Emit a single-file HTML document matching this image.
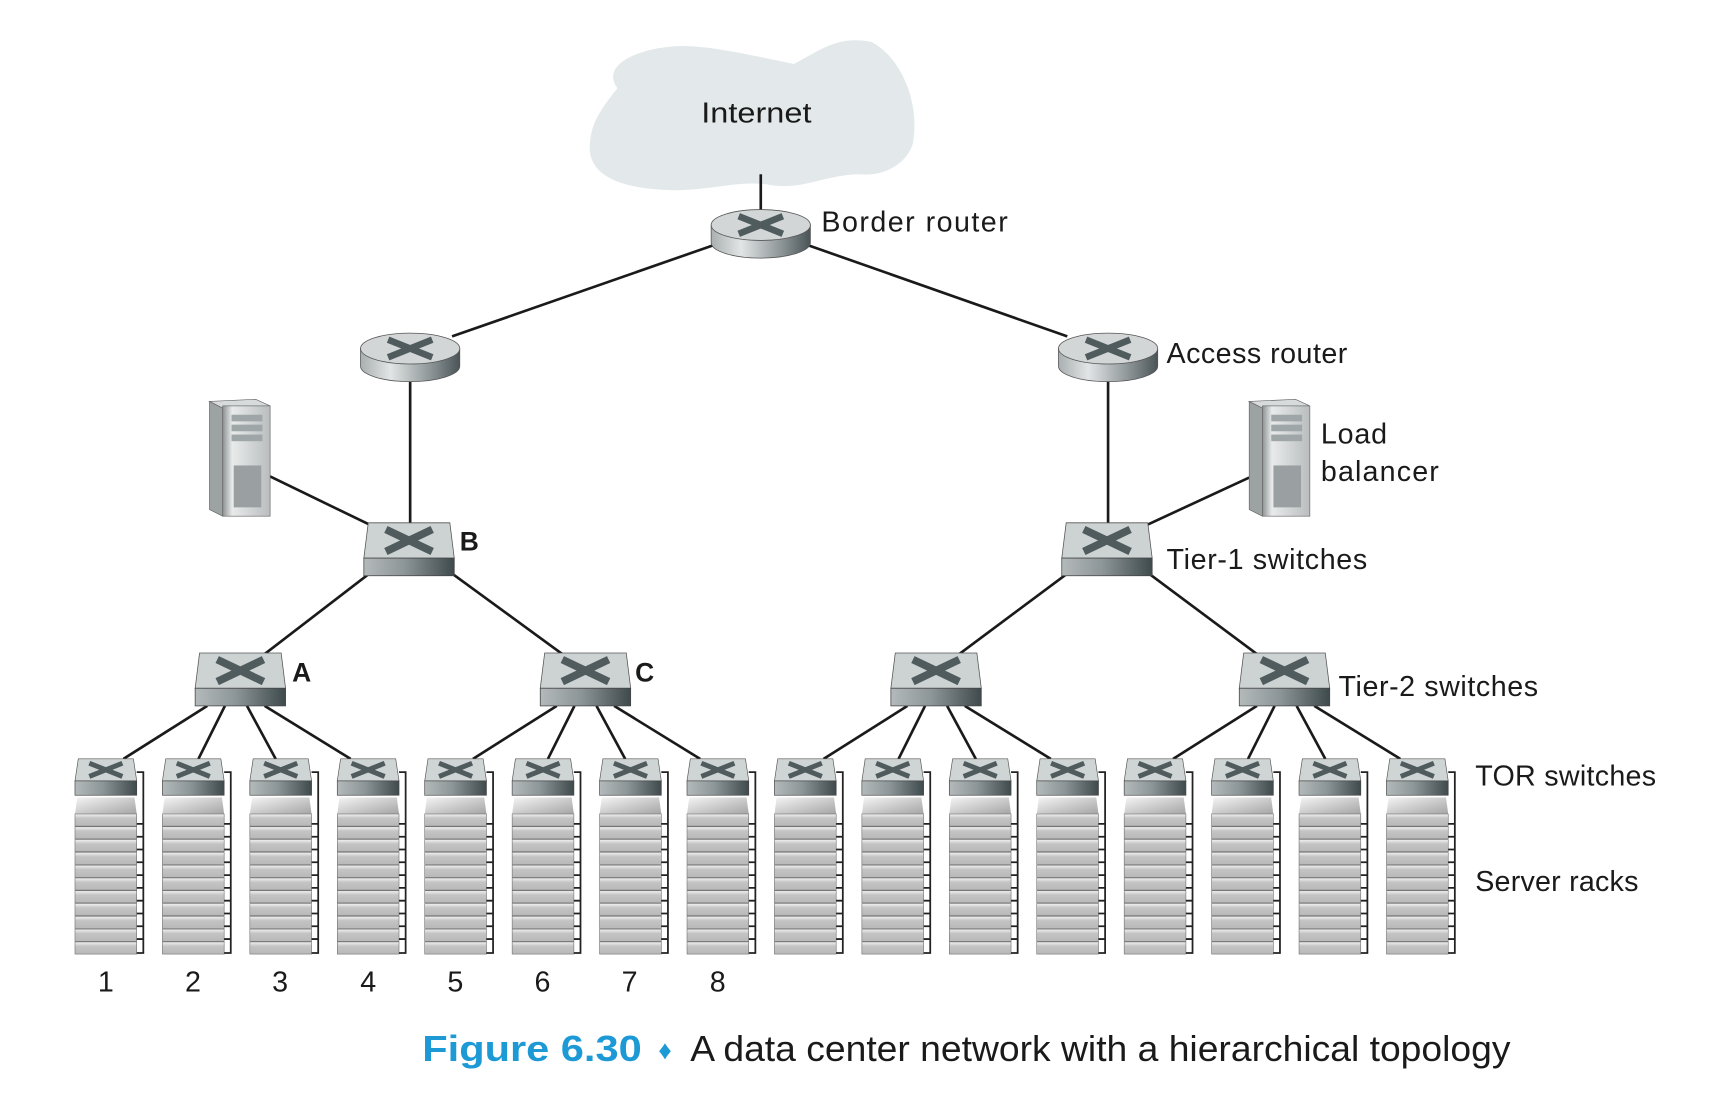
<!DOCTYPE html>
<html><head><meta charset="utf-8"><style>
html,body{margin:0;padding:0;background:#fff}
svg{display:block}
text{font-family:"Liberation Sans",sans-serif;fill:#1a1a1a}
</style></head><body>
<svg width="1720" height="1114" viewBox="0 0 1560 1010" preserveAspectRatio="none" xmlns="http://www.w3.org/2000/svg">
<defs>
<linearGradient id="front" x1="0" x2="1" y1="0" y2="0"><stop offset="0" stop-color="#b4babb"/><stop offset="0.45" stop-color="#8c9597"/><stop offset="1" stop-color="#3f4a4c"/></linearGradient>
<linearGradient id="cyl" x1="0" x2="1"><stop offset="0" stop-color="#a9afb0"/><stop offset="0.3" stop-color="#e2e5e6"/><stop offset="0.7" stop-color="#8e9698"/><stop offset="1" stop-color="#4a5456"/></linearGradient>
<linearGradient id="topg" x1="0" x2="1" y1="0" y2="1"><stop offset="0" stop-color="#f4f4f4"/><stop offset="1" stop-color="#a5a5a5"/></linearGradient>
<linearGradient id="slab" x1="0" x2="0" y1="0" y2="1"><stop offset="0" stop-color="#f2f2f2"/><stop offset="0.35" stop-color="#c4c4c4"/><stop offset="1" stop-color="#b8b8b8"/></linearGradient>
<linearGradient id="srv" x1="0" x2="1"><stop offset="0" stop-color="#8d9293"/><stop offset="0.2" stop-color="#e9ebeb"/><stop offset="1" stop-color="#b9bdbe"/></linearGradient>
<symbol id="sw" overflow="visible">
 <path d="M4,0 L78,0 L82,32 L0,32 Z" fill="#cdd2d3" stroke="#555" stroke-width="0.7"/>
 <rect x="0" y="32" width="82" height="16" fill="url(#front)" stroke="#444" stroke-width="0.7"/>
 <path d="M20,6 L62,26 M62,6 L20,26" stroke="#4f5b5d" stroke-width="7"/>
</symbol>
<symbol id="rt" overflow="visible">
 <path d="M-45,0 L-45,16 A45,14 0 0 0 45,16 L45,0 Z" fill="url(#cyl)" stroke="#555" stroke-width="0.7"/>
 <ellipse cx="0" cy="0" rx="45" ry="14" fill="#d2d6d7" stroke="#555" stroke-width="0.7"/>
 <path d="M-20,-8 L20,8 M20,-8 L-20,8" stroke="#4f5b5d" stroke-width="6"/>
</symbol>
<symbol id="rack" overflow="visible">
 <path d="M3,0 L53,0 L56,20 L0,20 Z" fill="#cfd4d5" stroke="#555" stroke-width="0.6"/>
 <rect x="0" y="20" width="56" height="13" fill="url(#front)" stroke="#444" stroke-width="0.6"/>
 <path d="M13,4 L43,16 M43,4 L13,16" stroke="#4f5b5d" stroke-width="4.5"/>
 <path d="M2,35 L54,35 L56,50 L0,50 Z" fill="url(#topg)"/>
 <g fill="url(#slab)" stroke="#666" stroke-width="0.5">
  <rect x="0" y="50" width="56" height="11"/><rect x="0" y="61.6" width="56" height="11"/><rect x="0" y="73.2" width="56" height="11"/><rect x="0" y="84.8" width="56" height="11"/><rect x="0" y="96.4" width="56" height="11"/><rect x="0" y="108" width="56" height="11"/><rect x="0" y="119.6" width="56" height="11"/><rect x="0" y="131.2" width="56" height="11"/><rect x="0" y="142.8" width="56" height="11"/><rect x="0" y="154.4" width="56" height="11"/><rect x="0" y="166" width="56" height="11"/>
 </g>
 <path d="M56,12 L62,12 L62,176 L56,176 M56,59 H62 M56,70.6 H62 M56,82.2 H62 M56,93.8 H62 M56,105.4 H62 M56,117 H62 M56,128.6 H62 M56,140.2 H62 M56,151.8 H62 M56,163.4 H62" fill="none" stroke="#222" stroke-width="1.6"/>
</symbol>
<symbol id="server" overflow="visible">
 <path d="M0,0 L12,6 L12,104 L0,98 Z" fill="#9da2a3" stroke="#666" stroke-width="0.6"/>
 <path d="M0,0 L42,-2 L55,4 L12,6 Z" fill="#d8dbdc" stroke="#666" stroke-width="0.6"/>
 <rect x="12" y="4" width="43" height="100" fill="url(#srv)" stroke="#666" stroke-width="0.6"/>
 <rect x="20" y="12" width="28" height="6" fill="#9fa6a8"/><rect x="20" y="21" width="28" height="6" fill="#9fa6a8"/><rect x="20" y="30" width="28" height="6" fill="#9fa6a8"/>
 <rect x="22" y="58" width="25" height="38" fill="#9aa0a2"/>
</symbol>
</defs>

<path d="M560,80 C545,60 575,45 610,42 C640,40 680,50 720,58 C745,45 760,32 790,38 C815,50 835,90 828,130 C822,150 800,160 780,158 C750,158 730,172 700,168 C670,162 640,175 600,172 C565,170 532,160 535,130 C536,110 548,95 560,80 Z" fill="#e3e9eb"/>
<text x="636" y="111" font-size="26" textLength="100" lengthAdjust="spacingAndGlyphs">Internet</text>

<g stroke="#1a1a1a" stroke-width="2.4" fill="none">
 <line x1="690" y1="158" x2="690" y2="192"/>
 <line x1="648" y1="222" x2="410" y2="305"/>
 <line x1="732" y1="222" x2="968" y2="305"/>
 <line x1="372" y1="345" x2="372" y2="476"/>
 <line x1="1005" y1="345" x2="1005" y2="476"/>
 <line x1="245" y1="432" x2="340" y2="478"/>
 <line x1="1133" y1="433" x2="1040" y2="476"/>
 <line x1="335" y1="520" x2="240" y2="593"/>
 <line x1="410" y1="520" x2="510" y2="593"/>
 <line x1="968" y1="520" x2="870" y2="593"/>
 <line x1="1042" y1="520" x2="1140" y2="593"/>
 <line x1="188" y1="640" x2="112" y2="688"/><line x1="204" y1="640" x2="180" y2="688"/><line x1="224" y1="640" x2="250" y2="688"/><line x1="240" y1="640" x2="318" y2="688"/>
 <line x1="505" y1="640" x2="429" y2="688"/><line x1="521" y1="640" x2="497" y2="688"/><line x1="541" y1="640" x2="567" y2="688"/><line x1="557" y1="640" x2="635" y2="688"/>
 <line x1="823" y1="640" x2="747" y2="688"/><line x1="839" y1="640" x2="815" y2="688"/><line x1="859" y1="640" x2="885" y2="688"/><line x1="875" y1="640" x2="953" y2="688"/>
 <line x1="1140" y1="640" x2="1064" y2="688"/><line x1="1156" y1="640" x2="1132" y2="688"/><line x1="1176" y1="640" x2="1202" y2="688"/><line x1="1192" y1="640" x2="1270" y2="688"/>
</g>

<use href="#rt" x="690" y="204"/>
<use href="#rt" x="372" y="316"/>
<use href="#rt" x="1005" y="316"/>
<use href="#server" x="190" y="364"/>
<use href="#server" x="1133" y="364"/>
<use href="#sw" x="330" y="474"/>
<use href="#sw" x="963" y="474"/>
<use href="#sw" x="177" y="592"/>
<use href="#sw" x="490" y="592"/>
<use href="#sw" x="808" y="592"/>
<use href="#sw" x="1124" y="592"/>

<use href="#rack" x="68" y="688"/><use href="#rack" x="147.3" y="688"/><use href="#rack" x="226.6" y="688"/><use href="#rack" x="305.9" y="688"/>
<use href="#rack" x="385.2" y="688"/><use href="#rack" x="464.5" y="688"/><use href="#rack" x="543.8" y="688"/><use href="#rack" x="623.1" y="688"/>
<use href="#rack" x="702.4" y="688"/><use href="#rack" x="781.7" y="688"/><use href="#rack" x="861" y="688"/><use href="#rack" x="940.3" y="688"/>
<use href="#rack" x="1019.6" y="688"/><use href="#rack" x="1098.9" y="688"/><use href="#rack" x="1178.2" y="688"/><use href="#rack" x="1257.5" y="688"/>

<g font-size="26" lengthAdjust="spacingAndGlyphs">
<text x="745" y="210" textLength="169">Border router</text>
<text x="1058" y="329" textLength="164">Access router</text>
<text x="1198" y="402" textLength="60">Load</text>
<text x="1198" y="436" textLength="107">balancer</text>
<text x="1058" y="516" textLength="182">Tier-1 switches</text>
<text x="1214" y="631" textLength="181">Tier-2 switches</text>
<text x="1338" y="712" textLength="164">TOR switches</text>
<text x="1338" y="808" textLength="148">Server racks</text>
</g>
<g font-size="24" font-weight="bold">
<text x="417" y="499">B</text>
<text x="265" y="618">A</text>
<text x="576" y="618">C</text>
</g>
<g font-size="26" text-anchor="middle">
<text x="96" y="899">1</text><text x="175" y="899">2</text><text x="254" y="899">3</text><text x="334" y="899">4</text>
<text x="413" y="899">5</text><text x="492" y="899">6</text><text x="571" y="899">7</text><text x="651" y="899">8</text>
</g>
<text x="383" y="962" font-size="33" font-weight="bold" style="fill:#1d9ad6" textLength="199" lengthAdjust="spacingAndGlyphs">Figure 6.30</text>
<text x="597" y="960" font-size="24" style="fill:#1d9ad6">♦</text>
<text x="626" y="962" font-size="33" textLength="744" lengthAdjust="spacingAndGlyphs">A data center network with a hierarchical topology</text>
</svg>
</body></html>
